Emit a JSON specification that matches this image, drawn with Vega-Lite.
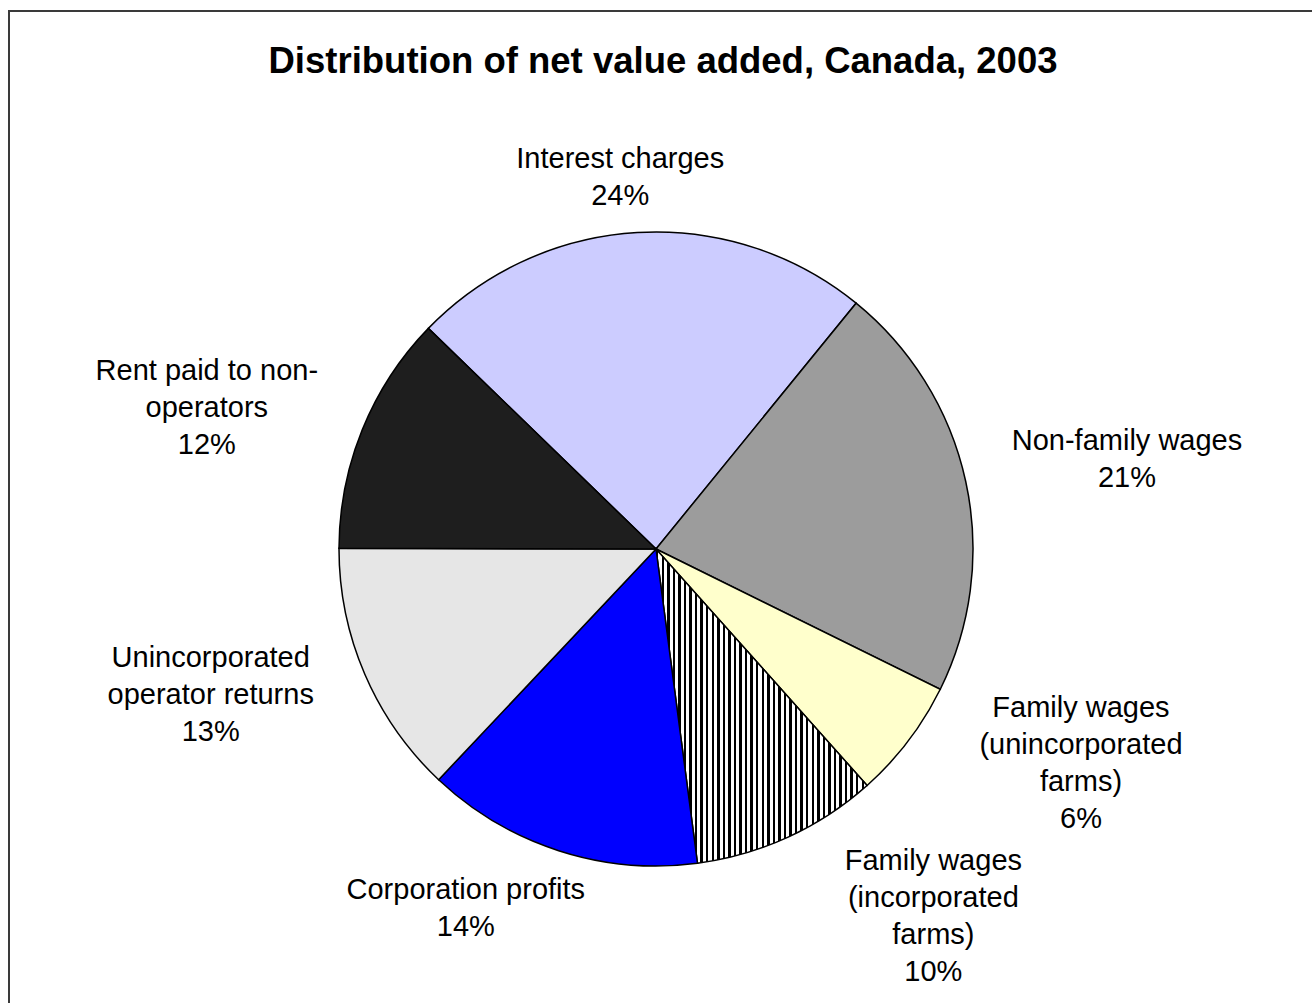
{
  "$schema": "https://vega.github.io/schema/vega-lite/v6.json",
  "width": 1294,
  "height": 1076,
  "padding": {"left": 8, "top": 10, "right": 0, "bottom": 0},
  "background": "white",
  "config": {"view": {"stroke": null}},
  "title": {
    "text": "Distribution of net value added, Canada, 2003",
    "font": "Liberation Sans",
    "fontSize": 36.5,
    "fontWeight": "bold",
    "color": "black",
    "anchor": "middle",
    "baseline": "alphabetic",
    "offset": -64,
    "dy": 35,
    "dx": 7
  },
  "datasets": {
    "slices": [
      {"idx": 1, "category": "Interest charges", "value": 23.6, "label": "Interest charges\n24%"},
      {"idx": 2, "category": "Non-family wages", "value": 21.4, "label": "Non-family wages\n21%"},
      {"idx": 3, "category": "Family wages (unincorporated farms)", "value": 6.1, "label": "Family wages\n(unincorporated\nfarms)\n6%"},
      {"idx": 4, "category": "Family wages (incorporated farms)", "value": 9.5, "label": "Family wages\n(incorporated\nfarms)\n10%"},
      {"idx": 5, "category": "Corporation profits", "value": 14.1, "label": "Corporation profits\n14%"},
      {"idx": 6, "category": "Unincorporated operator returns", "value": 13.0, "label": "Unincorporated\noperator returns\n13%"},
      {"idx": 7, "category": "Rent paid to non-operators", "value": 12.2, "label": "Rent paid to non-\noperators\n12%"}
    ],
    "frame": [{"name": "frame"}]
  },
  "data": {"name": "slices"},
  "layer": [
    {
      "data": {"name": "frame"},
      "mark": {"type": "rect", "filled": false, "stroke": "#3a3a3a", "strokeWidth": 2, "x": 0, "y": 0, "x2": {"expr": "width + 30"}, "y2": {"expr": "height + 30"}},
      "encoding": {}
    },
    {
      "mark": {"type": "arc", "outerRadius": 317, "stroke": "black", "strokeWidth": 1.5},
      "encoding": {
        "theta": {"field": "value", "type": "quantitative", "stack": true, "scale": {"range": [-0.8011, 5.4821]}},
        "order": {"field": "idx", "type": "quantitative"},
        "detail": {"field": "category", "type": "nominal"},
        "color": {
          "condition": {
            "test": "datum.category === 'Family wages (incorporated farms)'",
            "value": {
              "gradient": "linear", "x1": 0, "y1": 0, "x2": 1, "y2": 0,
              "stops": [
                {"offset": 0, "color": "#000"}, {"offset": 0.011842, "color": "#000"}, {"offset": 0.011842, "color": "#fff"}, {"offset": 0.026316, "color": "#fff"},
                {"offset": 0.026316, "color": "#000"}, {"offset": 0.038158, "color": "#000"}, {"offset": 0.038158, "color": "#fff"}, {"offset": 0.052632, "color": "#fff"},
                {"offset": 0.052632, "color": "#000"}, {"offset": 0.064474, "color": "#000"}, {"offset": 0.064474, "color": "#fff"}, {"offset": 0.078947, "color": "#fff"},
                {"offset": 0.078947, "color": "#000"}, {"offset": 0.090789, "color": "#000"}, {"offset": 0.090789, "color": "#fff"}, {"offset": 0.105263, "color": "#fff"},
                {"offset": 0.105263, "color": "#000"}, {"offset": 0.117105, "color": "#000"}, {"offset": 0.117105, "color": "#fff"}, {"offset": 0.131579, "color": "#fff"},
                {"offset": 0.131579, "color": "#000"}, {"offset": 0.143421, "color": "#000"}, {"offset": 0.143421, "color": "#fff"}, {"offset": 0.157895, "color": "#fff"},
                {"offset": 0.157895, "color": "#000"}, {"offset": 0.169737, "color": "#000"}, {"offset": 0.169737, "color": "#fff"}, {"offset": 0.184211, "color": "#fff"},
                {"offset": 0.184211, "color": "#000"}, {"offset": 0.196053, "color": "#000"}, {"offset": 0.196053, "color": "#fff"}, {"offset": 0.210526, "color": "#fff"},
                {"offset": 0.210526, "color": "#000"}, {"offset": 0.222368, "color": "#000"}, {"offset": 0.222368, "color": "#fff"}, {"offset": 0.236842, "color": "#fff"},
                {"offset": 0.236842, "color": "#000"}, {"offset": 0.248684, "color": "#000"}, {"offset": 0.248684, "color": "#fff"}, {"offset": 0.263158, "color": "#fff"},
                {"offset": 0.263158, "color": "#000"}, {"offset": 0.275, "color": "#000"}, {"offset": 0.275, "color": "#fff"}, {"offset": 0.289474, "color": "#fff"},
                {"offset": 0.289474, "color": "#000"}, {"offset": 0.301316, "color": "#000"}, {"offset": 0.301316, "color": "#fff"}, {"offset": 0.315789, "color": "#fff"},
                {"offset": 0.315789, "color": "#000"}, {"offset": 0.327632, "color": "#000"}, {"offset": 0.327632, "color": "#fff"}, {"offset": 0.342105, "color": "#fff"},
                {"offset": 0.342105, "color": "#000"}, {"offset": 0.353947, "color": "#000"}, {"offset": 0.353947, "color": "#fff"}, {"offset": 0.368421, "color": "#fff"},
                {"offset": 0.368421, "color": "#000"}, {"offset": 0.380263, "color": "#000"}, {"offset": 0.380263, "color": "#fff"}, {"offset": 0.394737, "color": "#fff"},
                {"offset": 0.394737, "color": "#000"}, {"offset": 0.406579, "color": "#000"}, {"offset": 0.406579, "color": "#fff"}, {"offset": 0.421053, "color": "#fff"},
                {"offset": 0.421053, "color": "#000"}, {"offset": 0.432895, "color": "#000"}, {"offset": 0.432895, "color": "#fff"}, {"offset": 0.447368, "color": "#fff"},
                {"offset": 0.447368, "color": "#000"}, {"offset": 0.459211, "color": "#000"}, {"offset": 0.459211, "color": "#fff"}, {"offset": 0.473684, "color": "#fff"},
                {"offset": 0.473684, "color": "#000"}, {"offset": 0.485526, "color": "#000"}, {"offset": 0.485526, "color": "#fff"}, {"offset": 0.5, "color": "#fff"},
                {"offset": 0.5, "color": "#000"}, {"offset": 0.511842, "color": "#000"}, {"offset": 0.511842, "color": "#fff"}, {"offset": 0.526316, "color": "#fff"},
                {"offset": 0.526316, "color": "#000"}, {"offset": 0.538158, "color": "#000"}, {"offset": 0.538158, "color": "#fff"}, {"offset": 0.552632, "color": "#fff"},
                {"offset": 0.552632, "color": "#000"}, {"offset": 0.564474, "color": "#000"}, {"offset": 0.564474, "color": "#fff"}, {"offset": 0.578947, "color": "#fff"},
                {"offset": 0.578947, "color": "#000"}, {"offset": 0.590789, "color": "#000"}, {"offset": 0.590789, "color": "#fff"}, {"offset": 0.605263, "color": "#fff"},
                {"offset": 0.605263, "color": "#000"}, {"offset": 0.617105, "color": "#000"}, {"offset": 0.617105, "color": "#fff"}, {"offset": 0.631579, "color": "#fff"},
                {"offset": 0.631579, "color": "#000"}, {"offset": 0.643421, "color": "#000"}, {"offset": 0.643421, "color": "#fff"}, {"offset": 0.657895, "color": "#fff"},
                {"offset": 0.657895, "color": "#000"}, {"offset": 0.669737, "color": "#000"}, {"offset": 0.669737, "color": "#fff"}, {"offset": 0.684211, "color": "#fff"},
                {"offset": 0.684211, "color": "#000"}, {"offset": 0.696053, "color": "#000"}, {"offset": 0.696053, "color": "#fff"}, {"offset": 0.710526, "color": "#fff"},
                {"offset": 0.710526, "color": "#000"}, {"offset": 0.722368, "color": "#000"}, {"offset": 0.722368, "color": "#fff"}, {"offset": 0.736842, "color": "#fff"},
                {"offset": 0.736842, "color": "#000"}, {"offset": 0.748684, "color": "#000"}, {"offset": 0.748684, "color": "#fff"}, {"offset": 0.763158, "color": "#fff"},
                {"offset": 0.763158, "color": "#000"}, {"offset": 0.775, "color": "#000"}, {"offset": 0.775, "color": "#fff"}, {"offset": 0.789474, "color": "#fff"},
                {"offset": 0.789474, "color": "#000"}, {"offset": 0.801316, "color": "#000"}, {"offset": 0.801316, "color": "#fff"}, {"offset": 0.815789, "color": "#fff"},
                {"offset": 0.815789, "color": "#000"}, {"offset": 0.827632, "color": "#000"}, {"offset": 0.827632, "color": "#fff"}, {"offset": 0.842105, "color": "#fff"},
                {"offset": 0.842105, "color": "#000"}, {"offset": 0.853947, "color": "#000"}, {"offset": 0.853947, "color": "#fff"}, {"offset": 0.868421, "color": "#fff"},
                {"offset": 0.868421, "color": "#000"}, {"offset": 0.880263, "color": "#000"}, {"offset": 0.880263, "color": "#fff"}, {"offset": 0.894737, "color": "#fff"},
                {"offset": 0.894737, "color": "#000"}, {"offset": 0.906579, "color": "#000"}, {"offset": 0.906579, "color": "#fff"}, {"offset": 0.921053, "color": "#fff"},
                {"offset": 0.921053, "color": "#000"}, {"offset": 0.932895, "color": "#000"}, {"offset": 0.932895, "color": "#fff"}, {"offset": 0.947368, "color": "#fff"},
                {"offset": 0.947368, "color": "#000"}, {"offset": 0.959211, "color": "#000"}, {"offset": 0.959211, "color": "#fff"}, {"offset": 0.973684, "color": "#fff"},
                {"offset": 0.973684, "color": "#000"}, {"offset": 0.985526, "color": "#000"}, {"offset": 0.985526, "color": "#fff"}, {"offset": 1, "color": "#fff"}
              ]
            }
          },
          "field": "category",
          "type": "nominal",
          "legend": null,
          "scale": {
            "domain": ["Interest charges", "Non-family wages", "Family wages (unincorporated farms)", "Family wages (incorporated farms)", "Corporation profits", "Unincorporated operator returns", "Rent paid to non-operators"],
            "range": ["#ccccff", "#9c9c9c", "#ffffcc", "#7a7a7a", "#0000ff", "#e6e6e6", "#1e1e1e"]
          }
        }
      }
    },
    {
      "transform": [
        {"stack": "value", "groupby": [], "sort": [{"field": "idx", "order": "ascending"}], "as": ["v0", "v1"]}
      ],
      "mark": {
        "type": "text",
        "font": "Liberation Sans",
        "fontSize": 29,
        "color": "black",
        "lineBreak": "\n",
        "lineHeight": 37,
        "align": "center",
        "baseline": "middle",
        "theta": {"expr": "scale('theta', (datum.v0+datum.v1)/2) + 0.314*sin(2*scale('theta', (datum.v0+datum.v1)/2))*abs(cos(scale('theta', (datum.v0+datum.v1)/2)))"},
        "radius": {"expr": "1/sqrt(pow(sin(scale('theta', (datum.v0+datum.v1)/2) + 0.314*sin(2*scale('theta', (datum.v0+datum.v1)/2))*abs(cos(scale('theta', (datum.v0+datum.v1)/2))))/485,2)+pow(cos(scale('theta', (datum.v0+datum.v1)/2) + 0.314*sin(2*scale('theta', (datum.v0+datum.v1)/2))*abs(cos(scale('theta', (datum.v0+datum.v1)/2))))/373,2)) + 50*pow(max(0, -cos(scale('theta', (datum.v0+datum.v1)/2) + 0.314*sin(2*scale('theta', (datum.v0+datum.v1)/2))*abs(cos(scale('theta', (datum.v0+datum.v1)/2))))),2) - 32*sin(2*(scale('theta', (datum.v0+datum.v1)/2) + 0.314*sin(2*scale('theta', (datum.v0+datum.v1)/2))*abs(cos(scale('theta', (datum.v0+datum.v1)/2)))))*max(0, -cos(scale('theta', (datum.v0+datum.v1)/2) + 0.314*sin(2*scale('theta', (datum.v0+datum.v1)/2))*abs(cos(scale('theta', (datum.v0+datum.v1)/2)))))"},
        "dy": {"expr": "-(length(split(datum.label, '\\n'))-1)*18.5"}
      },
      "encoding": {
        "text": {"field": "label", "type": "nominal"}
      }
    }
  ]
}
